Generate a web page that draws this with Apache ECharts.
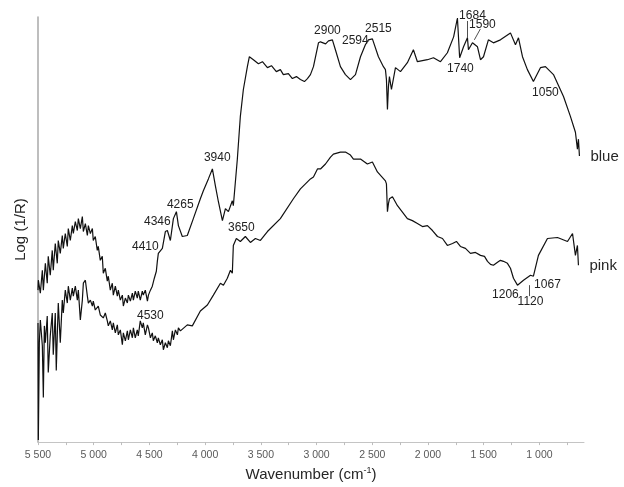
<!DOCTYPE html>
<html>
<head>
<meta charset="utf-8">
<script src="https://cdn.jsdelivr.net/npm/echarts@6/dist/echarts.min.js"></script>
<style>
  html, body { margin: 0; padding: 0; background: #fff; }
  #chart { width: 624px; height: 487px; }
</style>
</head>
<body>
<div id="chart"></div>
<script>
// Reflectance spectra of the two samples, Log(1/R) versus wavenumber (cm-1)
const blueWavenumber = [5500,5497,5479,5461,5452,5434,5417,5408,5390,5372,5363,5345,5327,5318,5300,5282,5273,5255,5237,5228,5210,5192,5183,5165,5147,5138,5120,5102,5093,5075,5057,5048,5030,5012,5004,4986,4968,4959,4941,4923,4914,4896,4878,4869,4851,4833,4824,4806,4788,4779,4761,4743,4734,4716,4698,4689,4671,4653,4644,4627,4609,4600,4582,4564,4555,4537,4518,4509,4491,4474,4456,4438,4429,4420,
  4384,4357,4339,4312,4285,4258,4240,4205,4160,4106,4043,4016,3971,3935,3908,3881,3845,3818,3791,3756,3747,3711,3684,3657,3621,3603,3567,3522,3486,3441,3405,3361,3325,3298,3253,3217,3181,3145,3109,3082,3055,3028,2983,2965,2919,2893,2858,2831,2786,2741,2696,2651,2606,2562,2535,2499,2445,2400,2382,2373,2364,2355,2346,2328,2292,2247,2185,2131,2095,2005,1951,1888,1826,1770,1736,1716,1681,1646,1637,1601,1556,1529,1502,1458,1413,1350,1260,1215,1188,1152,1108,1054,991,946,874,784,722,677,659,650,641];
const blueLog = [0.765,0.815,0.75,0.865,0.765,0.90,0.80,0.935,0.84,0.965,0.865,1.0,0.90,1.015,0.95,1.04,0.975,1.05,0.985,1.075,1.015,1.09,1.05,1.11,1.065,1.125,1.075,1.135,1.06,1.10,1.04,1.09,1.05,1.075,1.015,1.035,0.965,0.985,0.915,0.935,0.85,0.875,0.81,0.835,0.765,0.80,0.74,0.785,0.735,0.765,0.715,0.74,0.685,0.725,0.70,0.74,0.71,0.75,0.715,0.76,0.725,0.76,0.715,0.76,0.74,0.765,0.71,0.74,0.765,0.785,0.825,0.86,0.91,0.95,
  0.975,1.06,1.065,1.015,1.125,1.16,1.09,1.035,1.04,1.125,1.225,1.265,1.325,1.375,1.29,1.21,1.115,1.175,1.16,1.215,1.19,1.425,1.64,1.775,1.89,1.94,1.925,1.905,1.915,1.885,1.895,1.865,1.875,1.85,1.855,1.83,1.84,1.825,1.815,1.83,1.85,1.89,2.01,2.015,2.005,2.02,2.025,1.975,1.89,1.85,1.825,1.85,1.94,2.0,2.025,2.03,1.94,1.89,1.875,1.825,1.675,1.79,1.84,1.775,1.885,1.865,1.91,1.975,1.915,1.925,1.935,1.915,1.96,2.04,2.135,1.935,1.99,2.035,1.975,2.01,1.99,1.925,1.94,2.025,2.01,2.025,2.06,2.0,2.035,1.94,1.875,1.815,1.885,1.89,1.85,1.74,1.64,1.56,1.475,1.525,1.44];

const pinkWavenumber = [5500,5497,5488,5479,5461,5452,5443,5434,5417,5408,5390,5372,5363,5345,5336,5327,5318,5300,5291,5282,5273,5255,5237,5228,5210,5192,5183,5165,5147,5138,5120,5102,5093,5075,5057,5048,5030,5012,5004,4986,4959,4941,4914,4896,4878,4869,4851,4833,4824,4806,4788,4779,4761,4743,4734,4716,4698,4689,4671,4653,4644,4627,4609,4600,4582,4564,4555,4537,4518,4509,4491,4474,4465,4447,4429,4420,4402,4384,4375,4357,4339,4330,4312,4294,4285,4267,4249,4240,
  4222,4160,4115,4043,3980,3926,3863,3836,3801,3773,3756,3747,3720,3684,3639,3594,3549,3504,3441,3325,3208,3145,3100,3055,3028,2992,2965,2920,2875,2849,2786,2741,2696,2669,2606,2544,2499,2454,2382,2373,2364,2355,2346,2319,2274,2185,2140,2095,2050,2005,1960,1915,1870,1826,1780,1745,1709,1664,1619,1574,1529,1493,1466,1439,1413,1376,1350,1323,1287,1260,1233,1197,1143,1080,1054,1009,928,838,748,703,677,659,650];
const pinkLog = [0.60,0.01,0.50,0.615,0.485,0.225,0.585,0.50,0.635,0.35,0.535,0.65,0.44,0.65,0.36,0.535,0.70,0.50,0.49,0.715,0.65,0.765,0.70,0.785,0.715,0.775,0.735,0.785,0.715,0.765,0.615,0.715,0.80,0.815,0.735,0.70,0.715,0.685,0.71,0.665,0.685,0.64,0.625,0.65,0.61,0.585,0.61,0.565,0.60,0.55,0.59,0.54,0.565,0.49,0.55,0.51,0.56,0.515,0.565,0.525,0.575,0.525,0.565,0.535,0.61,0.575,0.60,0.54,0.59,0.575,0.525,0.55,0.51,0.535,0.50,0.525,0.49,0.515,0.465,0.50,0.475,0.51,0.485,0.56,0.515,0.565,0.54,0.575,
  0.56,0.59,0.585,0.66,0.69,0.74,0.80,0.79,0.825,0.865,0.85,0.99,1.025,1.01,1.035,1.005,1.025,1.015,1.06,1.125,1.225,1.275,1.30,1.325,1.335,1.375,1.375,1.40,1.435,1.45,1.46,1.46,1.445,1.425,1.425,1.40,1.41,1.36,1.315,1.30,1.16,1.20,1.225,1.235,1.19,1.125,1.115,1.10,1.085,1.09,1.065,1.035,1.025,0.99,1.0,1.01,0.985,0.975,0.95,0.955,0.94,0.935,0.91,0.895,0.89,0.905,0.915,0.91,0.90,0.875,0.825,0.79,0.815,0.84,0.835,0.94,1.025,1.03,1.01,1.05,0.94,0.99,0.89];

// Axis tick labels and the small ticks between them
const tickLabels = [5500,5000,4500,4000,3500,3000,2500,2000,1500,1000];
const tickMarks = [5500,5250,5000,4750,4500,4250,4000,3750,3500,3250,3000,2750,2500,2250,2000,1750,1500,1250,1000,750];

// Band assignments: text and where each text sits (wavenumber, Log(1/R))
const blueBandText = ['4410','4346','4265','3940','2900','2594','2515','1740','1684','1590','1050'];
const blueBandAt = [[4537,0.985],[4429,1.11],[4223,1.195],[3891,1.43],[2903,2.07],[2652,2.02],[2445,2.08],[1709,1.88],[1601,2.135],[1512,2.10],[946,1.76]];
const pinkBandText = ['4530','3650','1206','1120','1067'];
const pinkBandAt = [[4492,0.635],[3675,1.08],[1305,0.74],[1080,0.705],[928,0.79]];

const zip = (xs, ys) => xs.map((x, i) => [x, ys[i]]);
const fmtThousands = v => {
  const s = String(v);
  return s.length > 3 ? s.slice(0, s.length - 3) + ' ' + s.slice(-3) : s;
};

const bandLabel = {
  show: true,
  position: 'inside',
  formatter: '{b}',
  color: '#222',
  fontSize: 12,
  fontFamily: 'Liberation Sans, Arial, sans-serif'
};

function bandMarks(texts, at, extraOffset) {
  return {
    symbol: 'circle',
    symbolSize: 0,
    silent: true,
    label: bandLabel,
    data: texts.map((t, i) => ({
      name: t,
      coord: at[i],
      label: extraOffset[t] ? { offset: extraOffset[t] } : undefined
    }))
  };
}

const arrowStyle = {
  silent: true,
  symbol: ['none', 'arrow'],
  symbolSize: [0, 6],
  label: { show: false },
  lineStyle: { color: '#222', width: 0.8, type: 'solid' },
  emphasis: { disabled: true }
};

const endName = {
  show: true,
  formatter: '{a}',
  fontSize: 15,
  color: '#262626',
  align: 'left',
  offset: [19, 1]
};

const chart = echarts.init(document.getElementById('chart'), null, { renderer: 'canvas' });

chart.setOption({
  animation: false,
  backgroundColor: '#ffffff',
  textStyle: { fontFamily: 'Liberation Sans, Arial, sans-serif' },
  grid: { left: 38, right: 40, top: 17, bottom: 42 },
  xAxis: {
    type: 'value',
    inverse: true,
    min: 600,
    max: 5500,
    name: 'Wavenumber (cm{sup|-1}{n|)}',
    nameLocation: 'middle',
    nameGap: 20,
    nameTextStyle: {
      fontSize: 15,
      color: '#262626',
      rich: {
        sup: { fontSize: 9, color: '#262626', verticalAlign: 'top', padding: [0, 0, 8, 0] },
        n: { fontSize: 15, color: '#262626' }
      }
    },
    axisLine: { show: true, lineStyle: { color: '#c4c4c4', width: 1 } },
    axisTick: { show: true, length: 3, customValues: tickMarks, lineStyle: { color: '#bdbdbd' } },
    axisLabel: {
      customValues: tickLabels,
      formatter: v => fmtThousands(v),
      color: '#595959',
      fontSize: 10.5,
      margin: 8
    },
    splitLine: { show: false }
  },
  yAxis: {
    type: 'value',
    min: 0,
    max: 2.14,
    name: 'Log (1/R)',
    nameLocation: 'middle',
    nameGap: 10,
    nameTextStyle: { fontSize: 15, color: '#262626' },
    axisLine: { show: true, lineStyle: { color: '#a8a8a8', width: 1.5 } },
    axisTick: { show: false },
    axisLabel: { show: false },
    splitLine: { show: false }
  },
  series: [
    {
      name: 'blue',
      type: 'line',
      data: zip(blueWavenumber, blueLog),
      showSymbol: false,
      symbol: 'none',
      lineStyle: { color: '#111', width: 1.2 },
      endLabel: endName,
      markPoint: bandMarks(blueBandText, blueBandAt, { '1684': [0, -2] }),
      markLine: Object.assign({}, arrowStyle, {
        data: [
          [{ coord: [1646, 2.12] }, { coord: [1646, 2.035] }],
          [{ coord: [1530, 2.08] }, { coord: [1584, 2.025] }]
        ]
      })
    },
    {
      name: 'pink',
      type: 'line',
      data: zip(pinkWavenumber, pinkLog),
      showSymbol: false,
      symbol: 'none',
      lineStyle: { color: '#111', width: 1.2 },
      endLabel: endName,
      markPoint: bandMarks(pinkBandText, pinkBandAt, {}),
      markLine: Object.assign({}, arrowStyle, {
        data: [
          [{ coord: [1090, 0.735] }, { coord: [1090, 0.79] }]
        ]
      })
    }
  ]
});
</script>
</body>
</html>
